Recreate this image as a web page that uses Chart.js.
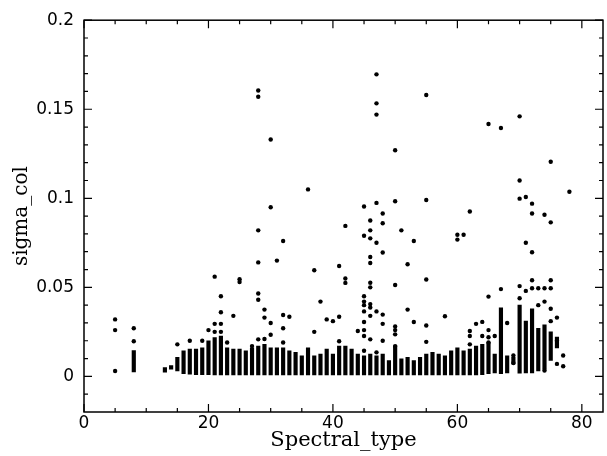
<!DOCTYPE html>
<html>
<head>
<meta charset="utf-8">
<script src="https://cdn.jsdelivr.net/npm/chart.js"></script>
<style>
  html, body { margin: 0; padding: 0; background: #fff; }
  #wrap { width: 607px; height: 456px; }
</style>
</head>
<body>
<div id="wrap"><canvas id="sigmaChart"></canvas></div>
<script>
// Dense columns of stars: spectral type and the low/high sigma_col of each column
const columnX    = [8, 13, 14, 15, 16, 17, 18, 19, 20, 21, 22, 23, 24, 25, 26, 27, 28, 29, 30, 31, 32, 33, 34, 35, 36, 37, 38, 39, 40, 41, 42, 43, 44, 45, 46, 47, 48, 49, 50, 51, 52, 53, 54, 55, 56, 57, 58, 59, 60, 61, 62, 63, 64, 65, 66, 67, 68, 69, 70, 71, 72, 73, 74, 75, 76];
const columnLow  = [0.0025, 0.0024, 0.004, 0.003, 0.0015, 0.0012, 0.001, 0.001, 0.001, 0.0008, 0.0008, 0.0008, 0.0008, 0.0008, 0.0008, 0.0008, 0.0008, 0.0008, 0.0008, 0.0008, 0.0008, 0.0008, 0.0008, 0.0008, 0.0008, 0.0008, 0.0008, 0.0008, 0.0008, 0.0008, 0.0008, 0.0008, 0.0008, 0.0008, 0.0008, 0.0008, 0.0008, 0.0008, 0.0008, 0.0008, 0.0008, 0.0008, 0.0008, 0.0008, 0.0008, 0.0008, 0.0008, 0.0008, 0.0008, 0.0008, 0.0008, 0.0008, 0.001, 0.0015, 0.002, 0.0015, 0.002, 0.007, 0.0018, 0.002, 0.002, 0.003, 0.004, 0.009, 0.016];
const columnHigh = [0.0145, 0.005, 0.006, 0.0107, 0.0144, 0.0153, 0.0153, 0.016, 0.020, 0.0218, 0.0227, 0.016, 0.0153, 0.0153, 0.0144, 0.016, 0.017, 0.018, 0.016, 0.016, 0.016, 0.0144, 0.0135, 0.0116, 0.016, 0.0116, 0.0125, 0.0153, 0.0125, 0.017, 0.017, 0.0153, 0.0125, 0.0116, 0.0125, 0.0116, 0.0125, 0.0089, 0.017, 0.0098, 0.0107, 0.0089, 0.0107, 0.0125, 0.0135, 0.0125, 0.0116, 0.0144, 0.016, 0.0144, 0.0153, 0.017, 0.018, 0.019, 0.0125, 0.0385, 0.0116, 0.0107, 0.040, 0.031, 0.038, 0.027, 0.029, 0.025, 0.022];

// Isolated stars above the columns
const pointX = [5, 5, 5, 8, 8,
  15, 17, 19, 20, 21, 21, 21, 22, 22, 22, 22, 23, 24, 25, 25, 27,
  28, 28, 28, 28, 28, 28, 28, 29, 29, 29, 30, 30, 30, 30, 31, 32, 32, 32, 32, 33,
  36, 37, 37, 38, 39, 40, 41, 41, 41, 42, 42, 42,
  44, 45, 45, 45, 45, 45, 45, 45, 45, 45, 45,
  46, 46, 46, 46, 46, 46, 46, 46, 46, 46, 46,
  47, 47, 47, 47, 47, 47, 47, 48, 48, 48, 48, 48, 48,
  50, 50, 50, 50, 50, 50, 50, 51, 52, 52, 53, 53,
  55, 55, 55, 55, 55, 58, 60, 60, 61, 62, 62, 62, 62,
  63, 64, 64, 65, 65, 65, 65, 65, 66, 67, 67, 68, 69, 69,
  70, 70, 70, 70, 70, 71, 71, 71, 72, 72, 72, 72, 72, 73, 73,
  74, 74, 74, 74, 75, 75, 75, 75, 75, 75, 76, 76, 76, 77, 77, 78];
const pointY = [0.032, 0.026, 0.003, 0.027, 0.0197,
  0.018, 0.020, 0.020, 0.026, 0.056, 0.0295, 0.025, 0.045, 0.036, 0.0295, 0.025, 0.019, 0.034, 0.0545, 0.053, 0.017,
  0.1605, 0.157, 0.082, 0.064, 0.0465, 0.043, 0.0208, 0.0375, 0.033, 0.021, 0.133, 0.095, 0.030, 0.0234, 0.065, 0.076, 0.0345, 0.027, 0.019, 0.0335,
  0.105, 0.0596, 0.025, 0.042, 0.032, 0.031, 0.062, 0.0335, 0.0197, 0.0845, 0.055, 0.0525,
  0.0255, 0.0954, 0.079, 0.045, 0.042, 0.040, 0.0365, 0.0305, 0.026, 0.0227, 0.0144,
  0.0875, 0.082, 0.0775, 0.067, 0.0637, 0.0526, 0.050, 0.0406, 0.0387, 0.034, 0.0208,
  0.1696, 0.1533, 0.147, 0.0974, 0.075, 0.0365, 0.0135, 0.0915, 0.086, 0.0696, 0.0347, 0.0295, 0.020,
  0.127, 0.0983, 0.0513, 0.028, 0.026, 0.0236, 0.017, 0.082, 0.063, 0.0375, 0.076, 0.0305,
  0.158, 0.099, 0.0544, 0.0286, 0.0194, 0.0338, 0.0795, 0.0768, 0.0795, 0.0926, 0.0255, 0.0227, 0.018,
  0.0295, 0.0306, 0.0227, 0.1417, 0.0448, 0.026, 0.022, 0.019, 0.0227, 0.1395, 0.049, 0.030, 0.0117, 0.0075,
  0.146, 0.110, 0.0998, 0.0507, 0.0439, 0.1007, 0.075, 0.048, 0.097, 0.0915, 0.0697, 0.054, 0.0495, 0.0495, 0.040,
  0.0908, 0.0495, 0.042, 0.0033, 0.1205, 0.0865, 0.054, 0.0495, 0.038, 0.031, 0.033, 0.020, 0.007, 0.0117, 0.0057, 0.1037];

// Axis ticks
const xMajorTicks = [0, 20, 40, 60, 80];
const xMinorTicks = [5, 10, 15, 25, 30, 35, 45, 50, 55, 65, 70, 75];
const yMajorTicks = [0, 0.05, 0.1, 0.15, 0.2];
const yMinorTicks = [-0.01, 0.01, 0.02, 0.03, 0.04, 0.06, 0.07, 0.08, 0.09, 0.11, 0.12, 0.13, 0.14, 0.16, 0.17, 0.18, 0.19];

const columns = columnX.map((x, i) => ({ x: x, y: [columnLow[i], columnHigh[i]] }));
const points = pointX.map((x, i) => ({ x: x, y: pointY[i] }));

// Box frame with inward ticks on all four sides (IDL style)
const framePlugin = {
    id: 'frame',
    afterDraw(chart) {
        const { ctx, chartArea: a, scales } = chart;
        ctx.save();
        ctx.strokeStyle = '#000';
        ctx.lineWidth = 1.5;
        ctx.strokeRect(a.left, a.top, a.right - a.left, a.bottom - a.top);
        ctx.lineWidth = 1.2;
        ctx.beginPath();
        const xt = (list, len) => list.forEach(v => {
            const px = scales.x.getPixelForValue(v);
            ctx.moveTo(px, a.bottom); ctx.lineTo(px, a.bottom - len);
            ctx.moveTo(px, a.top); ctx.lineTo(px, a.top + len);
        });
        const yt = (list, len) => list.forEach(v => {
            const py = scales.y.getPixelForValue(v);
            ctx.moveTo(a.left, py); ctx.lineTo(a.left + len, py);
            ctx.moveTo(a.right, py); ctx.lineTo(a.right - len, py);
        });
        xt(xMajorTicks, 8); xt(xMinorTicks, 4);
        yt(yMajorTicks, 8); yt(yMinorTicks, 4);
        ctx.stroke();
        ctx.restore();
    }
};

const ctx = document.getElementById('sigmaChart').getContext('2d');

const chart = new Chart(ctx, {
    type: 'bar',
    data: {
        datasets: [
            {
                type: 'bar',
                label: 'columns',
                data: columns,
                backgroundColor: '#000',
                borderWidth: 0,
                barThickness: 3.5,
                grouped: false
            },
            {
                type: 'scatter',
                label: 'stars',
                data: points,
                backgroundColor: '#000',
                borderWidth: 0,
                pointRadius: 2.2,
                showLine: false
            }
        ]
    },
    options: {
        responsive: true,
        maintainAspectRatio: false,
        animation: false,
        layout: { padding: { top: 16, right: 3, left: 0, bottom: 0 } },
        plugins: {
            legend: { display: false },
            tooltip: { enabled: false }
        },
        scales: {
            x: {
                type: 'linear',
                offset: false,
                min: 0,
                max: 83.4,
                afterBuildTicks: s => { s.ticks = xMajorTicks.map(v => ({ value: v })); },
                afterFit: s => { s.height = 44; },
                grid: { display: false, drawTicks: false },
                border: { display: false },
                ticks: {
                    color: '#000',
                    padding: 1,
                    maxRotation: 0,
                    font: { family: 'DejaVu Sans', size: 17 },
                    callback: v => String(v)
                },
                title: {
                    display: true,
                    text: 'Spectral_type',
                    color: '#000',
                    font: { family: 'DejaVu Serif', size: 21 },
                    padding: { top: 0, bottom: 3 }
                }
            },
            y: {
                type: 'linear',
                min: -0.02,
                max: 0.2,
                afterBuildTicks: s => { s.ticks = yMajorTicks.map(v => ({ value: v })); },
                afterFit: s => { s.width = 84; },
                grid: { display: false, drawTicks: false },
                border: { display: false },
                ticks: {
                    color: '#000',
                    padding: 10,
                    font: { family: 'DejaVu Sans', size: 17 },
                    callback: v => String(+v.toFixed(3))
                },
                title: {
                    display: true,
                    text: 'sigma_col',
                    color: '#000',
                    font: { family: 'DejaVu Serif', size: 20 },
                    padding: { top: 10, bottom: 0 }
                }
            }
        }
    },
    plugins: [framePlugin]
});
</script>
</body>
</html>
